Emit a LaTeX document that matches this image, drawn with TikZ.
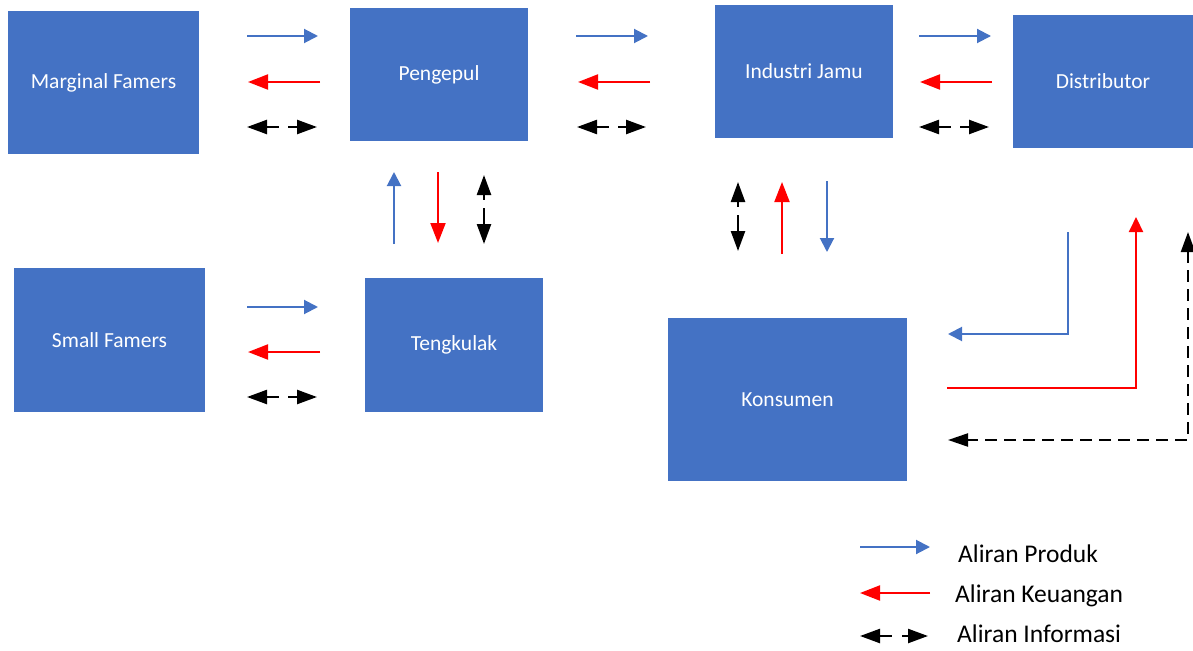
\documentclass[tikz,border=0pt]{standalone}
\usepackage{fontspec}
\setmainfont{Carlito}
\usetikzlibrary{arrows.meta}
\definecolor{boxblue}{HTML}{4472C4}
\definecolor{arrred}{HTML}{FF0000}
\begin{document}
\begin{tikzpicture}[x=1pt,y=-1pt,
  box/.style={fill=boxblue, text=white, font=\fontsize{21.5}{25}\selectfont, inner sep=0pt, outer sep=0pt},
  prod/.style={draw=boxblue, line width=2pt, -{Triangle[length=14pt,width=14pt]}},
  fin/.style={draw=arrred, line width=2pt, -{Triangle[length=20pt,width=15pt]}},
  finl/.style={draw=arrred, line width=2pt, -{Triangle[length=15pt,width=14pt]}},
  info/.style={draw=black, line width=2.4pt, dash pattern=on 13pt off 9pt on 80pt,
    {Triangle[length=20pt,width=14pt]}-{Triangle[length=20pt,width=14pt]}},
  infol/.style={draw=black, line width=2.2pt, dash pattern=on 12pt off 7pt,
    {Triangle[length=20pt,width=14pt]}-{Triangle[length=20pt,width=13pt]}},
  leg/.style={font=\fontsize{25.5}{29}\selectfont, anchor=base west, inner sep=0pt}]
\useasboundingbox (0,0) rectangle (1193,650);

% boxes
\node[box, minimum width=191pt, minimum height=143pt] (mf) at (103.5,82.5) {Marginal Famers};
\node[box, minimum width=178pt, minimum height=133pt] (pg) at (439,74.5) {Pengepul};
\node[box, minimum width=178pt, minimum height=133pt] (ij) at (804,71.5) {Industri Jamu};
\node[box, minimum width=180pt, minimum height=133pt] (ds) at (1103,81.5) {Distributor};
\node[box, minimum width=191pt, minimum height=144pt] (sf) at (109.5,340) {Small Famers};
\node[box, minimum width=178pt, minimum height=134pt] (tk) at (454,345) {Tengkulak};
\node[box, minimum width=239pt, minimum height=163pt] (ks) at (787.5,399.5) {Konsumen};

% Marginal -- Pengepul
\coordinate (a1) at (247,36); \coordinate (a2) at (318,36);
\coordinate (a3) at (320,82); \coordinate (a4) at (248,82);
\coordinate (a5) at (247,127); \coordinate (a6) at (317,127);
\draw[prod] (a1) -- (a2);
\draw[fin] (a3) -- (a4);
\draw[info] (a5) -- (a6);

% Pengepul -- Industri
\coordinate (b1) at (576,36); \coordinate (b2) at (648,36);
\coordinate (b3) at (650,82); \coordinate (b4) at (578,82);
\coordinate (b5) at (577,127); \coordinate (b6) at (646,127);
\draw[prod] (b1) -- (b2);
\draw[fin] (b3) -- (b4);
\draw[info] (b5) -- (b6);

% Industri -- Distributor
\coordinate (c1) at (919,36); \coordinate (c2) at (991,36);
\coordinate (c3) at (992,82); \coordinate (c4) at (920,82);
\coordinate (c5) at (919,127); \coordinate (c6) at (989,127);
\draw[prod] (c1) -- (c2);
\draw[fin] (c3) -- (c4);
\draw[info] (c5) -- (c6);

% Small -- Tengkulak
\coordinate (d1) at (247,307); \coordinate (d2) at (318,307);
\coordinate (d3) at (320,352); \coordinate (d4) at (248,352);
\coordinate (d5) at (247,397); \coordinate (d6) at (317,397);
\draw[prod] (d1) -- (d2);
\draw[fin] (d3) -- (d4);
\draw[info] (d5) -- (d6);

% Tengkulak -- Pengepul
\coordinate (e1) at (394,244); \coordinate (e2) at (394,172);
\coordinate (e3) at (438,172); \coordinate (e4) at (438,243);
\coordinate (e5) at (484,175); \coordinate (e6) at (484,244);
\draw[prod] (e1) -- (e2);
\draw[fin] (e3) -- (e4);
\draw[info, dash pattern=on 6pt off 8pt on 80pt] (e5) -- (e6);

% Industri -- Konsumen
\coordinate (f1) at (738,182); \coordinate (f2) at (738,251);
\coordinate (f3) at (782,254); \coordinate (f4) at (782,182);
\coordinate (f5) at (827,181); \coordinate (f6) at (827,252);
\draw[info, dash pattern=on 6pt off 8pt on 80pt] (f1) -- (f2);
\draw[fin] (f3) -- (f4);
\draw[prod] (f5) -- (f6);

% Distributor -- Konsumen
\coordinate (g1) at (1068,232); \coordinate (g2) at (948,334);
\coordinate (g3) at (947,388); \coordinate (g4) at (1136,217);
\coordinate (g5) at (1188,232); \coordinate (g6) at (948,440);
\draw[prod] (g1) |- (g2);
\draw[finl] (g3) -| (g4);
\draw[infol] (g5) |- (g6);

% legend
\coordinate (l1) at (860,547); \coordinate (l2) at (930,547);
\coordinate (l3) at (930,593); \coordinate (l4) at (860,593);
\coordinate (l5) at (860,636); \coordinate (l6) at (928,636);
\draw[prod] (l1) -- (l2);
\draw[fin] (l3) -- (l4);
\draw[info, dash pattern=on 13pt off 10pt on 80pt] (l5) -- (l6);
\node[leg] (t1) at (958,562) {Aliran Produk};
\node[leg] (t2) at (955,602) {Aliran Keuangan};
\node[leg] (t3) at (957,642) {Aliran Informasi};
\end{tikzpicture}
\end{document}
